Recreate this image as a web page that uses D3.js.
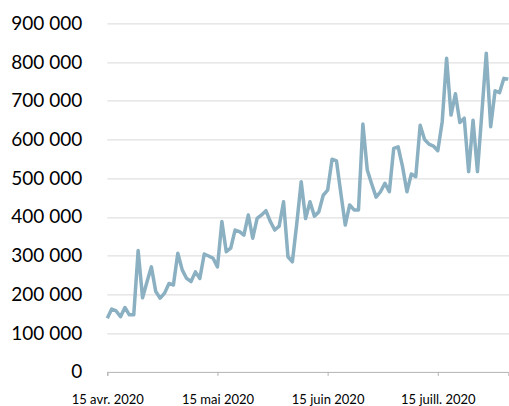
<!DOCTYPE html>
<html>
<head>
<meta charset="utf-8">
<script src="https://cdn.jsdelivr.net/npm/d3@7"></script>
<style>
  html, body { margin: 0; padding: 0; background: #fff; }
  svg { display: block; }
</style>
</head>
<body>
<div id="courbe"></div>
<script>
// valeurs (un point tous les ~1,2 jours)
const valeurs = [
  138000, 162000, 157000, 142000, 166000, 147000, 147000, 313000, 191000, 232000,
  271000, 207000, 190000, 203000, 228000, 224000, 306000, 263000, 241000, 233000,
  258000, 241000, 304000, 299000, 293000, 271000, 388000, 310000, 319000, 366000,
  362000, 353000, 405000, 345000, 396000, 405000, 416000, 388000, 366000, 376000,
  439000, 297000, 284000, 383000, 491000, 396000, 439000, 402000, 413000, 456000,
  469000, 549000, 545000, 461000, 379000, 431000, 418000, 418000, 640000, 521000,
  485000, 451000, 465000, 487000, 465000, 577000, 581000, 530000, 465000, 511000,
  504000, 637000, 600000, 588000, 583000, 571000, 646000, 810000, 663000, 718000,
  644000, 655000, 517000, 650000, 517000, 668000, 823000, 633000, 726000, 721000,
  758000, 756000
];

// étiquettes de l'axe des dates et leur position (index du point)
const dateLabels = ["15 avr. 2020", "15 mai 2020", "15 juin 2020", "15 juill. 2020"];
const dateIndex = [0, 25, 50, 75];

const yTicks = [0, 100000, 200000, 300000, 400000, 500000, 600000, 700000, 800000, 900000];

// dimensions
const courbe_margin = { top: 23.4, right: 0.7, bottom: 34.3, left: 107.3 },
  courbe_width = 509 - courbe_margin.left - courbe_margin.right,
  courbe_height = 406 - courbe_margin.top - courbe_margin.bottom;

const courbe_svg = d3.select("#courbe")
  .append("svg")
  .attr("width", 509)
  .attr("height", 406)
  .append("g")
  .attr("transform", `translate(${courbe_margin.left},${courbe_margin.top})`);

const xc = d3.scaleLinear()
  .domain([0, valeurs.length - 1])
  .range([0, courbe_width]);

const yc = d3.scaleLinear()
  .domain([0, 900000])
  .range([courbe_height, 0]);

const fmt = d3.formatLocale({ decimal: ",", thousands: "\u00a0", grouping: [3], currency: ["", " €"] }).format(",");

// lignes de quadrillage
courbe_svg.append("g")
  .selectAll("line")
  .data(yTicks.filter(d => d > 0))
  .join("line")
  .attr("x1", 0)
  .attr("x2", courbe_width + 2)
  .attr("y1", d => Math.round(yc(d)) + 0.5)
  .attr("y2", d => Math.round(yc(d)) + 0.5)
  .attr("stroke", "#d9d9d9")
  .attr("stroke-width", 1);

// axe Y (étiquettes seulement)
const yAxisC = courbe_svg.append("g")
  .call(d3.axisLeft(yc).tickValues(yTicks).tickFormat(fmt).tickSize(0).tickPadding(25));
yAxisC.select(".domain").remove();
yAxisC.selectAll("text")
  .attr("font-family", "Lato, 'Open Sans', sans-serif")
  .attr("font-size", 19)
  .attr("fill", "#000");

// axe X
const xAxisC = courbe_svg.append("g")
  .attr("transform", `translate(0,${Math.round(courbe_height) + 0.5})`)
  .call(d3.axisBottom(xc)
    .tickValues(dateIndex)
    .tickFormat((d, i) => dateLabels[i])
    .tickSizeOuter(0)
    .tickSize(4)
    .tickPadding(19));
xAxisC.select(".domain").attr("stroke", "#b3b3b3");
xAxisC.selectAll(".tick line").attr("stroke", "#b3b3b3");
xAxisC.selectAll("text")
  .attr("font-family", "Lato, 'Open Sans', sans-serif")
  .attr("font-size", 13)
  .attr("fill", "#000");

// la courbe
courbe_svg.append("path")
  .datum(valeurs)
  .attr("fill", "none")
  .attr("stroke", "#8ab0c2")
  .attr("stroke-width", 3.5)
  .attr("stroke-linejoin", "round")
  .attr("d", d3.line()
    .x((d, i) => xc(i))
    .y(d => yc(d)));
</script>
</body>
</html>
